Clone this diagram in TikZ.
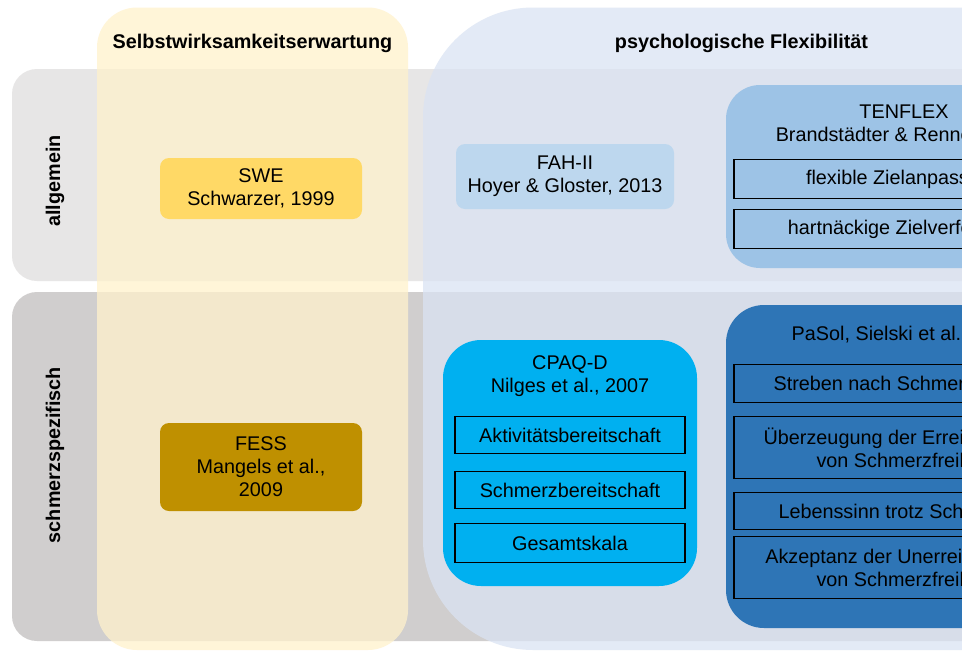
\documentclass[tikz,border=0pt]{standalone}
\usepackage{fontspec}
\setmainfont{Liberation Sans}
\usepackage{xcolor}
\usepackage{tikz}
\usetikzlibrary{positioning}
\definecolor{bandA}{HTML}{E7E6E6}
\definecolor{bandB}{HTML}{D0CECE}
\definecolor{colY}{HTML}{FFF2CC}
\definecolor{colB}{HTML}{DAE3F3}
\definecolor{swe}{HTML}{FFD966}
\definecolor{fess}{HTML}{BF9000}
\definecolor{fah}{HTML}{BDD7EE}
\definecolor{tenflex}{HTML}{9DC3E6}
\definecolor{cpaq}{HTML}{00B0F0}
\definecolor{pasol}{HTML}{2E75B6}
\newcommand{\dfont}{\fontsize{19.8}{23}\selectfont}
\tikzset{
  band/.style={rounded corners=25pt},
  col/.style={fill opacity=.75},
  hd/.style={font=\dfont\bfseries,anchor=base},
  rowlbl/.style={font=\dfont\bfseries,rotate=90},
  inst/.style={rounded corners=9pt,align=center,minimum width=202pt,inner sep=2pt},
  grp/.style={rounded corners=36pt,minimum width=356pt,inner sep=0pt},
  item/.style={draw,line width=1.2pt,align=center,inner sep=2pt},
}

\begin{document}
\begin{tikzpicture}[x=1pt,y=-1pt,font=\dfont,
  sub/.style={item,minimum width=340pt,minimum height=38pt},
  csub/.style={item,minimum width=230pt,minimum height=37pt}]
  \useasboundingbox (0,0) rectangle (962,651);
  \clip (0,0) rectangle (962,651);
  \fill[white] (0,0) rectangle (962,651);
  \fill[band,bandA] (12,69) rectangle (1120,281);
  \fill[band,bandB] (12,292) rectangle (1120,641);
  \fill[col,colY,rounded corners=40pt] (97,7.5) rectangle (408,650);
  \fill[col,colB,rounded corners=110pt] (423,7.5) rectangle (1180,650);
  \node[hd] (hSwe) at (252.5,48) {Selbstwirksamkeitserwartung};
  \node[hd] (hFlex) at (741.5,48) {psychologische Flexibilität};
  \node[rowlbl] (rAllg) at (55,181) {allgemein};
  \node[rowlbl] (rSchm) at (55,455) {schmerzspezifisch};
  \node[inst,fill=swe,minimum height=61pt] (swe) at (261,188.5) {SWE\\Schwarzer, 1999};
  \node[inst,fill=fess,minimum height=88pt] (fess) at (261,467) {FESS\\Mangels et al.,\\2009};
  \node[inst,fill=fah,minimum width=218pt,minimum height=65pt] (fah) at (565,176.5) {FAH-II\\Hoyer \& Gloster, 2013};
  \node[grp,fill=tenflex,minimum height=183pt,rounded corners=34pt] (tenflex) at (904,176.5) {};
  \node[align=center] (tenT) at (904,124.5) {TENFLEX\\Brandstädter \& Renner, 1990};
  \node[sub,minimum height=39pt,anchor=north] (zielA) at (904,159) {flexible Zielanpassung};
  \node[sub,minimum height=39pt,below=9.8pt of zielA] (zielB) {hartnäckige Zielverfolgung};
  \node[grp,fill=cpaq,minimum width=254pt,minimum height=246pt,rounded corners=38pt] (cpaq) at (570,463) {};
  \node[align=center] (cpaqT) at (570,376.5) {CPAQ-D\\Nilges et al., 2007};
  \node[csub,anchor=north] (akt) at (570,416) {Aktivitätsbereitschaft};
  \node[csub,below=16.8pt of akt] (schm) {Schmerzbereitschaft};
  \node[csub,minimum height=39pt,below=13.8pt of schm] (ges) {Gesamtskala};
  \node[grp,fill=pasol,minimum height=323pt,rounded corners=38pt] (pasol) at (904,466.5) {};
  \node[anchor=base] (pasolT) at (904,340) {PaSol, Sielski et al., 2017};
  \node[sub,anchor=north] (streb) at (904,364) {Streben nach Schmerzfreiheit};
  \node[sub,minimum height=62pt,below=12.8pt of streb] (ueber) {Überzeugung der Erreichbarkeit\\von Schmerzfreiheit};
  \node[sub,minimum height=37pt,below=12.8pt of ueber] (sinn) {Lebenssinn trotz Schmerzen};
  \node[sub,minimum height=62pt,below=5.8pt of sinn] (akz) {Akzeptanz der Unerreichbarkeit\\von Schmerzfreiheit};
\end{tikzpicture}
\end{document}
